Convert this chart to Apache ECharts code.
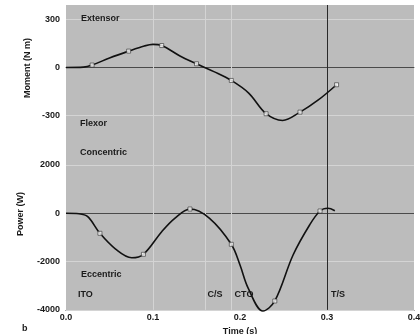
<!DOCTYPE html>
<html><head><meta charset="utf-8">
<script src="https://cdn.jsdelivr.net/npm/echarts@6/dist/echarts.min.js"></script>
<style>html,body{margin:0;padding:0;background:#fff}#c{width:420px;height:334px}</style>
</head><body><div id="c"></div>
<script>
// Time (s) and joint moment (N m)
const momentT = [0, 0.02, 0.03, 0.05, 0.072, 0.09, 0.1, 0.11, 0.131, 0.15, 0.17, 0.19, 0.21, 0.23, 0.249, 0.269, 0.29, 0.311];
const momentV = [0, 2, 15, 59, 102, 134, 144, 137, 72, 23, -26, -81, -160, -289, -331, -279, -203, -108];
const momentMarkIdx = [2, 4, 7, 9, 11, 13, 15, 17];
// Time (s) and joint power (W)
const powerT = [0, 0.015, 0.025, 0.039, 0.057, 0.0755, 0.089, 0.11, 0.125, 0.1425, 0.165, 0.19, 0.2, 0.2095, 0.2264, 0.24, 0.261, 0.28, 0.292, 0.301, 0.309];
const powerV = [0, -20, -141, -828, -1480, -1838, -1697, -760, -207, 178, -207, -1283, -2140, -3105, -4045, -3631, -1726, -484, 95, 207, 108];
const powerMarkIdx = [3, 6, 9, 11, 15, 18];
// Ticks
const timeTicks = [0, 0.1, 0.2, 0.3, 0.4];
const momentTicks = [-300, 0, 300];
const powerTicks = [-4000, -2000, 0, 2000];
// Events
const eventT = [0, 0.157, 0.188, 0.3];
const eventNames = ['ITO', 'C/S', 'CTO', 'T/S'];
const extraLineT = [0.1];

const FONT = 'Liberation Sans';
const TXT = '#1a1a1a';
const BG = '#bcbcbc';

function pairs(t, v) { return t.map((x, i) => [x, v[i]]); }
function marks(t, v, idx) { return idx.map(i => [t[i], v[i]]); }

function markLines(ticks) {
  const light = { color: '#d4d4d4', width: 1, type: 'solid' };
  const d = [];
  ticks.forEach(v => d.push({ yAxis: v, lineStyle: v === 0 ? { color: '#4a4a4a', width: 1, type: 'solid' } : light }));
  extraLineT.forEach(t => d.push({ xAxis: t, lineStyle: light }));
  eventT.forEach((t, i) => {
    if (t === 0) return;
    d.push({ xAxis: t, lineStyle: i === eventT.length - 1 ? { color: '#2a2a2a', width: 1, type: 'solid' } : light });
  });
  return { silent: true, symbol: 'none', label: { show: false }, lineStyle: { type: 'solid' }, data: d, animation: false };
}

const chart = echarts.init(document.getElementById('c'), null, { renderer: 'canvas' });
const option = {
  animation: false,
  textStyle: { fontFamily: FONT },
  grid: [
    { left: 66, top: 5, width: 348, height: 135, show: true, backgroundColor: BG, borderWidth: 0, containLabel: false, outerBoundsMode: 'none' },
    { left: 66, top: 139.4, width: 348, height: 170.5, show: true, backgroundColor: BG, borderWidth: 0, containLabel: false, outerBoundsMode: 'none' }
  ],
  xAxis: [
    { gridIndex: 0, type: 'value', min: 0, max: 0.4, interval: 0.1, position: 'top',
      axisLine: { show: true, lineStyle: { color: '#555' } }, axisTick: { show: false },
      axisLabel: { show: false }, splitLine: { show: false } },
    { gridIndex: 1, type: 'value', min: 0, max: 0.4, interval: 0.1,
      axisLine: { show: true, onZero: false, lineStyle: { color: '#333' } }, axisTick: { show: false },
      axisLabel: { customValues: timeTicks, formatter: v => v.toFixed(1), fontSize: 9, color: TXT, margin: 3, fontWeight: 'bold', fontFamily: FONT },
      splitLine: { show: false },
      name: 'Time (s)', nameLocation: 'middle', nameGap: 14,
      nameTextStyle: { fontSize: 9, color: TXT, fontWeight: 'bold', fontFamily: FONT } }
  ],
  yAxis: [
    { gridIndex: 0, type: 'value', min: -453, max: 390,
      axisLine: { show: false }, axisTick: { show: false }, splitLine: { show: false },
      axisLabel: { customValues: momentTicks, formatter: v => String(v), fontSize: 9, color: TXT, margin: 6, fontWeight: 'bold', fontFamily: FONT } },
    { gridIndex: 1, type: 'value', min: -4000, max: 3060,
      axisLine: { show: false }, axisTick: { show: false }, splitLine: { show: false },
      axisLabel: { customValues: powerTicks, formatter: v => String(v), fontSize: 9, color: TXT, margin: 6, fontWeight: 'bold', fontFamily: FONT } }
  ],
  series: [
    { type: 'line', xAxisIndex: 0, yAxisIndex: 0, data: pairs(momentT, momentV), smooth: 0.35,
      showSymbol: false, lineStyle: { color: '#111', width: 1.6 }, z: 5, markLine: markLines(momentTicks) },
    { type: 'scatter', xAxisIndex: 0, yAxisIndex: 0, data: marks(momentT, momentV, momentMarkIdx),
      symbol: 'rect', symbolSize: 4, itemStyle: { color: '#fff', borderColor: '#333', borderWidth: 0.8 }, z: 6 },
    { type: 'line', xAxisIndex: 1, yAxisIndex: 1, data: pairs(powerT, powerV), smooth: 0.35, clip: false,
      showSymbol: false, lineStyle: { color: '#111', width: 1.6 }, z: 5, markLine: markLines(powerTicks) },
    { type: 'scatter', xAxisIndex: 1, yAxisIndex: 1, data: marks(powerT, powerV, powerMarkIdx),
      symbol: 'rect', symbolSize: 4, itemStyle: { color: '#fff', borderColor: '#333', borderWidth: 0.8 }, z: 6 }
  ]
};
chart.setOption(option);

function txt(text, x, y, opts) {
  return Object.assign({ type: 'text', x: x, y: y, z: 20, silent: true,
    style: Object.assign({ text: text, fontSize: 9, fontFamily: FONT, fontWeight: 'bold', fill: TXT, align: 'left', verticalAlign: 'middle' }, (opts && opts.style) || {}) },
    (opts && opts.el) || {});
}
const g = [
  txt('Extensor', 81, 19),
  txt('Flexor', 80, 124),
  txt('Concentric', 80, 153),
  txt('Eccentric', 81, 275),
  txt('Moment (N m)', 28, 68, { style: { align: 'center' }, el: { rotation: Math.PI / 2 } }),
  txt('Power (W)', 21, 214, { style: { align: 'center' }, el: { rotation: Math.PI / 2 } }),
  txt('b', 22, 329)
];
const evOffset = [12, 5, 5, 4];
eventT.forEach((t, i) => {
  const px = chart.convertToPixel({ xAxisIndex: 1 }, t);
  g.push(txt(eventNames[i], px + evOffset[i], 295));
});
chart.setOption({ graphic: g });
</script>
</body></html>
